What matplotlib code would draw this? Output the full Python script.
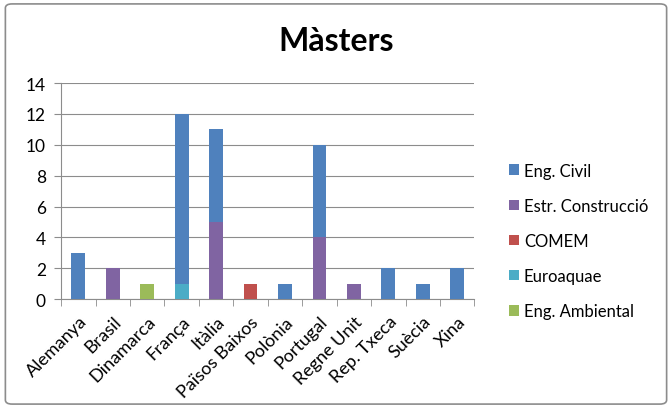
import numpy as np
import matplotlib.pyplot as plt
from matplotlib.patches import FancyBboxPatch

plt.rcParams['font.family'] = ['Lato', 'DejaVu Sans']

# Data
countries = ["Alemanya", "Brasil", "Dinamarca", "França", "Itàlia", "Països Baixos",
             "Polònia", "Portugal", "Regne Unit", "Rep. Txeca", "Suècia", "Xina"]
eng_ambiental = [0, 0, 1, 0, 0, 0, 0, 0, 0, 0, 0, 0]
euroaquae     = [0, 0, 0, 1, 0, 0, 0, 0, 0, 0, 0, 0]
comem         = [0, 0, 0, 0, 0, 1, 0, 0, 0, 0, 0, 0]
estr_constr   = [0, 2, 0, 0, 5, 0, 0, 4, 1, 0, 0, 0]
eng_civil     = [3, 0, 0, 11, 6, 0, 1, 6, 0, 2, 1, 2]

# stacked bottom -> top (Excel series order)
series = [
    ("Eng. Ambiental", eng_ambiental, "#9BBB59"),
    ("Euroaquae", euroaquae, "#4BACC6"),
    ("COMEM", comem, "#C0504D"),
    ("Estr. Construcció", estr_constr, "#8064A2"),
    ("Eng. Civil", eng_civil, "#4F81BD"),
]

fig = plt.figure(figsize=(6.72, 4.10), dpi=100)
# chart border
fig.patches.append(FancyBboxPatch((0.008, 0.012), 0.984, 0.976, boxstyle="round,pad=0,rounding_size=0.01",
                                  transform=fig.transFigure, fill=False, edgecolor="#8c8c8c", linewidth=1.2))

ax = fig.add_axes([0.091, 0.268, 0.615, 0.527])
x = np.arange(len(countries))
bottom = np.zeros(len(countries))
handles = []
for name, vals, col in series:
    b = ax.bar(x, vals, 0.4, bottom=bottom, color=col, label=name, zorder=3)
    bottom += np.array(vals)
    handles.append(b)

ax.set_xlim(-0.5, len(countries) - 0.5)
ax.set_ylim(0, 14)
ax.set_yticks(range(0, 15, 2))
ax.grid(axis="y", color="#8c8c8c", linewidth=0.8, zorder=0)
for s in ["top", "right"]:
    ax.spines[s].set_visible(False)
for s in ["left", "bottom"]:
    ax.spines[s].set_color("#8c8c8c")
ax.set_xticks(x)
ax.set_xticklabels(countries, rotation=45, ha="right", rotation_mode="anchor", fontsize=13)
ax.set_xticks(np.arange(-0.5, len(countries)), minor=True)
ax.tick_params(axis="x", which="major", length=0, pad=10)
ax.tick_params(axis="x", which="minor", length=5, color="#8c8c8c")
ax.tick_params(axis="y", length=5, color="#8c8c8c", labelsize=12.5, pad=6)

fig.text(0.5, 0.898, "Màsters", ha="center", va="center", fontsize=23, fontweight="bold")

fig.legend(handles[::-1], [s[0] for s in series][::-1], loc="center left",
           bbox_to_anchor=(0.735, 0.41), frameon=False, fontsize=12,
           handlelength=0.6, handleheight=0.6, handletextpad=0.3, labelspacing=1.15)

fig.savefig("out.png", dpi=100)
